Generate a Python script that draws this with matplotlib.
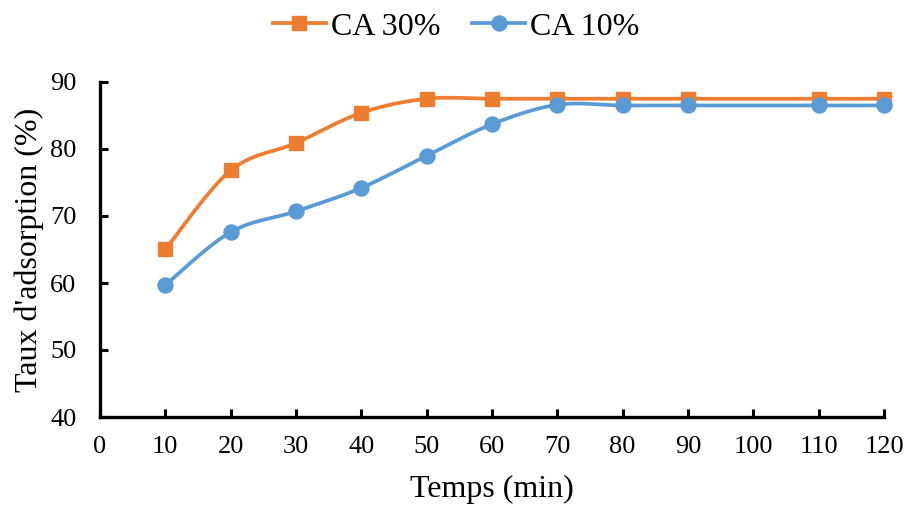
import numpy as np
import matplotlib
matplotlib.use("Agg")
import matplotlib.pyplot as plt

# Adsorption rate versus contact time
temps = [10, 20, 30, 40, 50, 60, 70, 80, 90, 110, 120]
ca30 = [65.0, 76.8, 80.9, 85.4, 87.5, 87.5, 87.5, 87.5, 87.5, 87.5, 87.5]
ca10 = [59.7, 67.6, 70.7, 74.2, 79.0, 83.7, 86.6, 86.5, 86.5, 86.5, 86.5]
xticks = list(range(0, 121, 10))
yticks = list(range(40, 91, 10))

ORANGE = "#ED7D31"
BLUE = "#5B9BD5"

plt.rcParams["font.family"] = ["Liberation Serif", "DejaVu Serif"]


def smooth(x, y, n=30):
    """Bezier smoothing through every point (Catmull-Rom style control points)."""
    p = np.column_stack([x, y]).astype(float)
    ext = np.vstack([p[0], p, p[-1]])
    out = []
    t = np.linspace(0, 1, n)[:, None]
    for i in range(len(p) - 1):
        p0, p1, p2, p3 = ext[i], ext[i + 1], ext[i + 2], ext[i + 3]
        c1 = p1 + (p2 - p0) / 6.0
        c2 = p2 - (p3 - p1) / 6.0
        seg = ((1 - t) ** 3) * p1 + 3 * ((1 - t) ** 2) * t * c1 + 3 * (1 - t) * t ** 2 * c2 + t ** 3 * p2
        out.append(seg if i == 0 else seg[1:])
    s = np.vstack(out)
    return s[:, 0], s[:, 1]


fig = plt.figure(figsize=(9.05, 5.07), dpi=100)
ax = fig.add_axes([100 / 905, 1 - 417 / 507, (884 - 100) / 905, (417 - 82) / 507])

LW = 2.7
for xs, ys, col, mk, ms, lab in [
    (temps, ca30, ORANGE, "s", 10.2, "CA 30%"),
    (temps, ca10, BLUE, "o", 10.8, "CA 10%"),
]:
    sx, sy = smooth(xs, ys)
    ax.plot(sx, sy, color=col, lw=LW, solid_capstyle="round", zorder=2, clip_on=False)
    ax.plot(xs, ys, ls="none", marker=mk, ms=ms, color=col, mec=col, zorder=3, clip_on=False)
    ax.plot([], [], color=col, lw=LW, marker=mk, ms=ms, label=lab)

ax.set_xlim(0, 120)
ax.set_ylim(40, 90)
ax.set_xticks(xticks)
ax.set_yticks(yticks)

for side in ["top", "right"]:
    ax.spines[side].set_visible(False)
for side in ["left", "bottom"]:
    ax.spines[side].set_linewidth(2.4)
    ax.spines[side].set_capstyle("projecting")

ax.tick_params(axis="y", direction="in", length=6, width=2.2, labelsize=19, pad=17)
ax.tick_params(axis="x", direction="in", length=6, width=2.2, labelsize=19, pad=14)

ax.set_xlabel("Temps (min)", fontsize=23, labelpad=12)
ax.set_ylabel("Taux d'adsorption (%)", fontsize=23, labelpad=4)

ax.legend(loc="center", bbox_to_anchor=(456 / 905, 1 - 27 / 507),
          bbox_transform=fig.transFigure, ncol=2, frameon=False,
          fontsize=23, handlelength=1.66, columnspacing=1.0, handletextpad=0.15,
          borderaxespad=0, borderpad=0)

fig.savefig("out.png", dpi=100)
